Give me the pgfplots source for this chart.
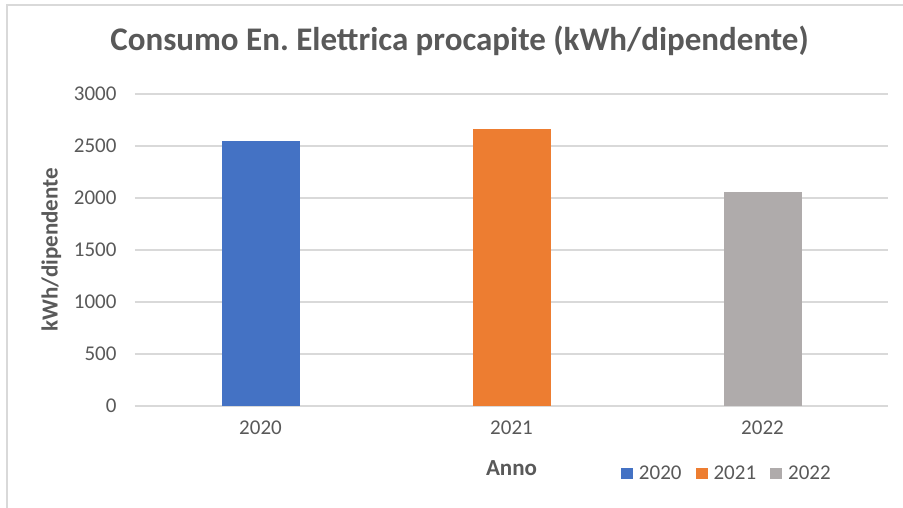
\documentclass[border=0pt]{standalone}
\usepackage{pgfplots}
\pgfplotsset{compat=1.18}
\usepackage{fontspec}
\setmainfont{Carlito}
\definecolor{txt}{HTML}{595959}
\definecolor{gridc}{HTML}{D9D9D9}
\definecolor{cA}{HTML}{4472C4}
\definecolor{cB}{HTML}{ED7D31}
\definecolor{cC}{HTML}{AFABAB}
\begin{document}
\begin{tikzpicture}[x=1pt,y=1pt]
\useasboundingbox (0,0) rectangle (903,508);
\fill[white] (0,0) rectangle (903,508);
\draw[color=gridc, line width=1.5pt] (7,0) -- (7,503) -- (903,503);
\begin{axis}[
  at={(135pt,102pt)}, anchor=south west,
  scale only axis, width=753pt, height=312pt,
  xmin=-0.5, xmax=2.5, ymin=0, ymax=3000,
  ybar, bar width=78pt, bar shift=0pt,
  xtick={0,1,2}, xticklabels={2020,2021,2022},
  ytick={0,500,...,3000},
  ymajorgrids, grid style={line width=1.5pt, color=gridc},
  axis x line*=bottom, axis y line*=left,
  x axis line style={gridc, line width=1.5pt},
  y axis line style={draw=none},
  major tick length=0pt,
  tick style={draw=none},
  ticklabel style={font=\fontsize{21}{21}\selectfont, text=txt},
  /pgf/number format/assume math mode=true,
  /pgf/number format/1000 sep={},
  yticklabel style={xshift=-15pt},
  xticklabel style={yshift=-11.5pt},
  ylabel={kWh/dipendente},
  ylabel style={at={(axis description cs:-0.111,0.5)}, anchor=center, font=\bfseries\fontsize{23}{23}\selectfont, text=txt},
  xlabel={Anno},
  xlabel style={at={(axis description cs:0.5,-0.2212)}, anchor=base, font=\bfseries\fontsize{23}{23}\selectfont, text=txt},
  title={Consumo En.\ Elettrica procapite (kWh/dipendente)},
  title style={at={(axis description cs:0.431,1.1186)}, anchor=base, font=\bfseries\fontsize{33}{33}\selectfont, text=txt},
  legend columns=3,
  legend style={at={(axis description cs:0.6454,-0.2163)}, anchor=west, draw=none, inner sep=0pt, outer sep=0pt,
    nodes={inner sep=0pt},
    font=\fontsize{21}{21}\selectfont, text=txt,
    /tikz/every odd column/.append style={column sep=6pt},
    /tikz/every even column/.append style={column sep=14pt}},
  legend image code/.code={\fill[#1] (0pt,-5.5pt) rectangle (12pt,5.5pt);},
]
\addplot[fill=cA, draw=none] coordinates {(0,2550)};
\addplot[fill=cB, draw=none] coordinates {(1,2665)};
\addplot[fill=cC, draw=none] coordinates {(2,2055)};
\legend{2020,2021,2022}
\end{axis}
\end{tikzpicture}
\end{document}
